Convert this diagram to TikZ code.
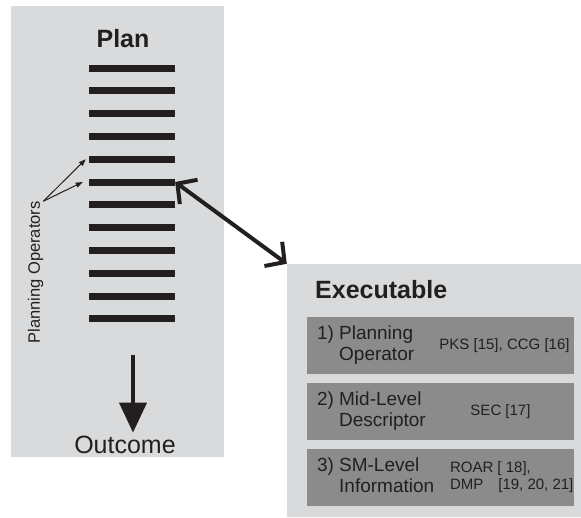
\documentclass[tikz,border=0pt]{standalone}
\usepackage{fontspec}
\setmainfont{Liberation Sans}
\usetikzlibrary{arrows.meta, positioning}
\definecolor{panel}{HTML}{D9DADB}
\definecolor{level}{HTML}{8B8B8B}
\definecolor{ink}{HTML}{231F20}
\tikzset{opbar/.style={fill=ink, minimum width=86pt, minimum height=7pt, inner sep=0pt},
  levelbox/.style={fill=level, minimum width=267pt, minimum height=57pt, inner sep=0pt},
  leveltxt/.style={font=\fontsize{19}{21}\selectfont, align=left, inner sep=0pt},
  reftxt/.style={font=\fontsize{15}{17}\selectfont, align=left, inner sep=0pt}}

\begin{document}
\begin{tikzpicture}[x=1pt, y=-1pt, ink]
\useasboundingbox (0,0) rectangle (581,517);
% plan with its operators
\node[fill=panel, minimum width=213pt, minimum height=451pt, inner sep=0pt] (plan) at (117.5,231.5) {};
\node[font=\fontsize{25}{30}\selectfont\bfseries] (plantitle) at (123,39) {Plan};
\foreach \i in {1,...,12}
  \node[opbar] (op\i) at (132,{68+22.8*(\i-1)}) {};
\node[rotate=90, font=\fontsize{16.5}{20}\selectfont, inner sep=0pt] (opslabel) at (35.5,272.5) {Planning Operators};
\draw[line width=1pt, -{Triangle[length=7pt,width=5pt]}] (opslabel.south east) -- ([xshift=-3pt]op5.west);
\draw[line width=1pt, -{Triangle[length=7pt,width=5pt]}] (opslabel.south east) -- ([xshift=-6pt]op6.west);
\node[font=\fontsize{25}{30}\selectfont] (outcome) at (125,445) {Outcome};
\coordinate (flow) at (133,355);
\draw[line width=4pt, -{Triangle[length=30pt,width=27pt]}] (flow) -- (flow |- outcome.north);
% executable side
\node[fill=panel, minimum width=294pt, minimum height=253pt, inner sep=0pt] (exec) at (434,390.5) {};
\node[font=\fontsize{25}{30}\selectfont\bfseries, anchor=west, inner sep=0pt] (exectitle) at (315,290) {Executable};
\node[levelbox] (lvl1) at (440.5,345.5) {};
\node[levelbox] (lvl2) at (440.5,411.5) {};
\node[levelbox] (lvl3) at (440.5,477.5) {};
\node[leveltxt, anchor=west] (name1) at ([xshift=10pt]lvl1.west) {1) Planning\\\phantom{1) }Operator};
\node[leveltxt, anchor=west] (name2) at ([xshift=10pt]lvl2.west) {2) Mid-Level\\\phantom{2) }Descriptor};
\node[leveltxt, anchor=west] (name3) at ([xshift=10pt]lvl3.west) {3) SM-Level\\\phantom{3) }Information};
\node[reftxt] (ref1) at ([xshift=64pt]lvl1.center) {PKS [15], CCG [16]};
\node[reftxt] (ref2) at ([xshift=60pt]lvl2.center) {SEC [17]};
\node[reftxt, anchor=west] (ref3) at ([xshift=143pt]lvl3.west) {ROAR [ 18],\\DMP\hspace{15pt}[19, 20, 21]};
\draw[line width=4pt, {Straight Barb[length=14pt,width=30pt]}-{Straight Barb[length=14pt,width=30pt]}] (op6.east) -- (exec.north west);
\end{tikzpicture}
\end{document}
